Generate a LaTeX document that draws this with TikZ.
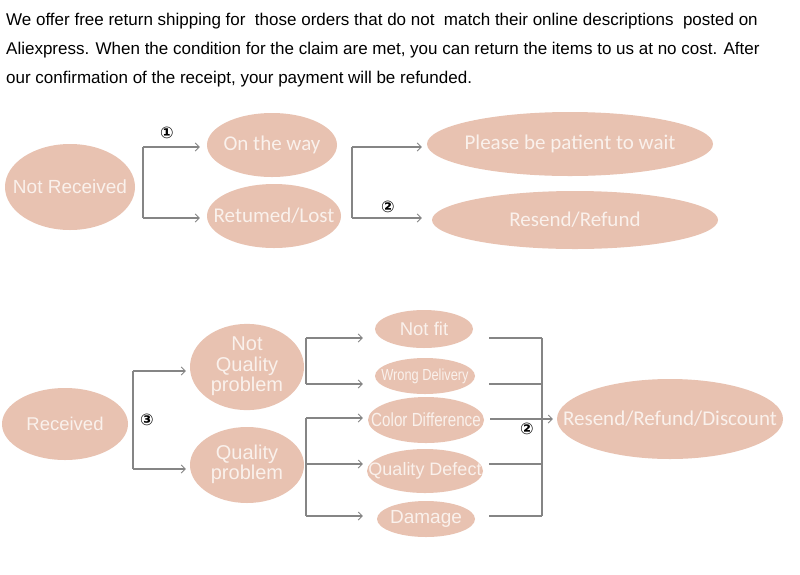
\documentclass[tikz,border=0pt]{standalone}
\usepackage{fontspec}
\setmainfont{Liberation Sans}
\newfontfamily\carl{Carlito}
\newfontfamily\narrow[FakeStretch=0.8]{Liberation Sans}
\newfontfamily\dejavu{DejaVu Sans}
\usetikzlibrary{arrows.meta,shapes.geometric}
\definecolor{peach}{HTML}{E8C2B1}
\definecolor{ltext}{HTML}{FAF1EC}
\definecolor{lgray}{HTML}{858585}
\newcommand{\zb}[1]{\makebox[0pt]{#1}}
\newcommand{\fs}[1]{\fontsize{#1}{#1}\selectfont}
\begin{document}
\begin{tikzpicture}[x=1pt,y=-1pt,
 bub/.style={ellipse,fill=peach,inner sep=0pt,text=ltext,align=center},
 conn/.style={draw=lgray,line width=1.6pt},
 arr/.style={conn,-{Straight Barb[length=4pt,width=8pt,line width=0.8pt]}},
 num/.style={font=\dejavu\bfseries\fs{16},inner sep=0pt},
 head/.style={anchor=base west,inner sep=0pt,font=\fs{17}}]
\useasboundingbox[fill=white] (0,0) rectangle (800,574);
% heading
\node[head] (t1) at (6,25) {We offer free return shipping for\ \ those orders that do not\ \ match their online descriptions\ \ posted on};
\node[head] (t2) at (6,54) {Aliexpress. When the condition for the claim are met, you can return the items to us at no cost. After};
\node[head] (t3) at (6,83) {our confirmation of the receipt, your payment will be refunded.};
% top section
\node[bub,minimum width=130pt,minimum height=86pt] (nr) at (70,187) {\zb{\fs{19}Not Received}};
\node[bub,minimum width=130pt,minimum height=64pt] (otw) at (272,145) {\zb{\carl\fs{21}On the way}};
\node[bub,minimum width=134pt,minimum height=64pt] (rl) at (274,216) {\zb{\carl\fs{21}Retumed/Lost}};
\node[bub,minimum width=286pt,minimum height=64pt] (pat) at (570,144) {\zb{\carl\fs{21}Please be patient to wait}};
\node[bub,minimum width=286pt,minimum height=58pt] (rr) at (575,220) {\zb{\carl\fs{21}Resend/Refund}};
\coordinate (b1t) at (143,147);
\coordinate (b1b) at (143,218);
\draw[conn] (b1t) -- (b1b);
\draw[arr,shorten >=7pt] (b1t) -- (b1t -| otw.west);
\draw[arr,shorten >=7pt] (b1b) -- (b1b -| rl.west);
\node[num] (n1) at (167,133) {①};
\coordinate (b2t) at (352,147);
\coordinate (b2b) at (352,218);
\draw[conn] (b2t) -- (b2b);
\draw[arr,shorten >=5pt] (b2t) -- (b2t -| pat.west);
\draw[arr,shorten >=10pt] (b2b) -- (b2b -| rr.west);
\node[num] (n2) at (388,207) {②};
% bottom section
\node[bub,minimum width=126pt,minimum height=72pt] (rec) at (65,424) {\zb{\fs{18.5}Received}};
\node[bub,minimum width=114pt,minimum height=80pt] (nqp) at (247,367) {\zb{\fs{20}\begin{tabular}{@{}c@{}}Not\\Quality\\problem\end{tabular}}};
\node[bub,minimum width=114pt,minimum height=76pt] (qp) at (247,465) {\zb{\fs{20}\begin{tabular}{@{}c@{}}Quality\\problem\end{tabular}}};
\coordinate (b3t) at (133,371);
\coordinate (b3b) at (133,469);
\draw[conn] (b3t) -- (b3b);
\draw[arr,shorten >=4pt] (b3t) -- (b3t -| nqp.west);
\draw[arr,shorten >=4pt] (b3b) -- (b3b -| qp.west);
\node[num] (n3) at (147,420) {③};
\node[bub,minimum width=98pt,minimum height=38pt] (nf) at (424,329) {\zb{\fs{18.5}Not fit}};
\node[bub,minimum width=100pt,minimum height=36pt] (wd) at (425,376) {\zb{\narrow\fs{16}Wrong Delivery}};
\node[bub,minimum width=116pt,minimum height=46pt] (cd) at (426,420) {\zb{\narrow\fs{19}Color Difference}};
\node[bub,minimum width=116pt,minimum height=44pt] (qd) at (425,471) {\zb{\fs{18}Quality Defect}};
\node[bub,minimum width=98pt,minimum height=36pt] (dm) at (426,519) {\zb{\fs{19}Damage}};
\coordinate (b4t) at (306,338);
\coordinate (b4b) at (306,384);
\draw[conn] (b4t) -- (b4b);
\draw[arr,shorten >=12pt] (b4t) -- (b4t -| nf.west);
\draw[arr,shorten >=12pt] (b4b) -- (b4b -| wd.west);
\coordinate (b5t) at (306,418);
\coordinate (b5m) at (306,464);
\coordinate (b5b) at (306,516);
\draw[conn] (b5t) -- (b5b);
\draw[arr,shorten >=5pt] (b5t) -- (b5t -| cd.west);
\draw[arr,shorten >=4pt] (b5m) -- (b5m -| qd.west);
\draw[arr,shorten >=14pt] (b5b) -- (b5b -| dm.west);
\node[bub,minimum width=226pt,minimum height=80pt] (rrd) at (670,419) {\zb{\carl\fs{21}Resend/Refund/Discount}};
\coordinate (b6t) at (542,338);
\coordinate (b6b) at (542,516);
\coordinate (b6a) at (542,419);
\draw[conn] (nf.east |- b6t) ++(16,0) -- (b6t);
\draw[conn] (wd.east |- 0,384) ++(14,0) -- (542,384);
\draw[conn] (cd.east |- b6a) ++(6,0) -- (b6a);
\draw[conn] (qd.east |- 0,464) ++(6,0) -- (542,464);
\draw[conn] (dm.east |- b6b) ++(14,0) -- (b6b);
\draw[conn] (b6t) -- (b6b);
\draw[arr,shorten >=4pt] (b6a) -- (b6a -| rrd.west);
\node[num] (n4) at (527,429) {②};
\end{tikzpicture}
\end{document}
